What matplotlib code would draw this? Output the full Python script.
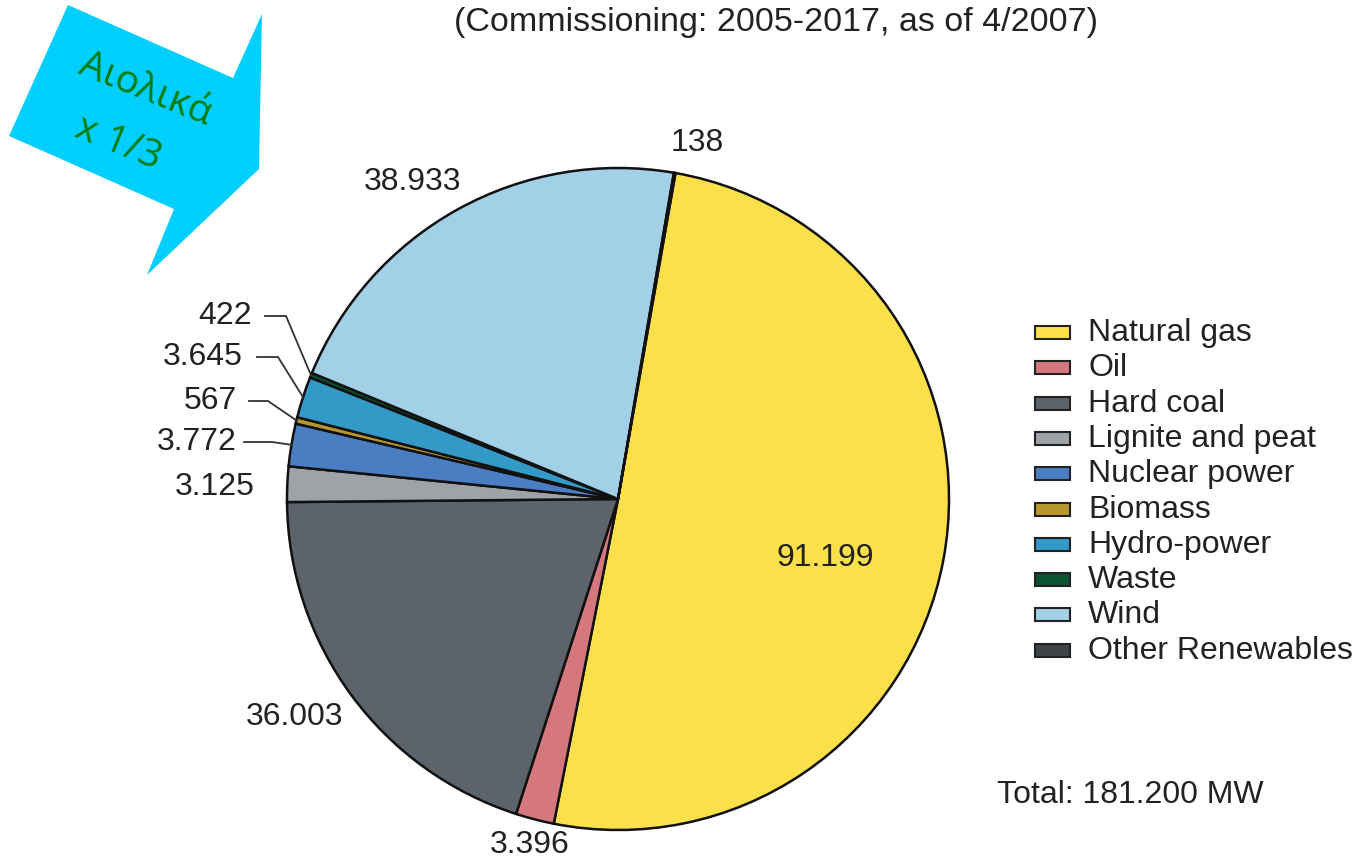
import matplotlib.pyplot as plt
from matplotlib.patches import Polygon, Rectangle
import numpy as np

plt.rcParams['font.family'] = ['Liberation Sans', 'DejaVu Sans']

sources = ["Natural gas", "Oil", "Hard coal", "Lignite and peat", "Nuclear power",
           "Biomass", "Hydro-power", "Waste", "Wind", "Other Renewables"]
capacity_mw = [91199, 3396, 36003, 3125, 3772, 567, 3645, 422, 38933, 138]
value_labels = ["91.199", "3.396", "36.003", "3.125", "3.772",
                "567", "3.645", "422", "38.933", "138"]
colors = ["#fbe04a", "#d4787e", "#5c636b", "#9ea3a8", "#4a7dc2",
          "#b8982e", "#3399c6", "#0a5230", "#a2d0e6", "#3d4347"]

W, H = 1366, 861
CX, CY, R = 618, 499, 331


def d(x, y):
    # pixel position -> pie data coordinates
    return (x - CX) / R, (CY - y) / R


def f(x, y):
    # pixel position -> figure fraction
    return x / W, 1 - y / H


fig = plt.figure(figsize=(W / 100, H / 100), dpi=100)
ax = fig.add_axes([0, 0, 1, 1])

wedges, _ = ax.pie(capacity_mw, colors=colors, startangle=80, counterclock=False,
                   wedgeprops=dict(edgecolor="#111111", linewidth=1.8))
ax.set_xlim((0 - CX) / R, (W - CX) / R)
ax.set_ylim((CY - H) / R, (CY - 0) / R)
ax.set_aspect("auto")
ax.axis("off")

txt = "#222222"
fs = 23

# label positions (pixels) and optional leader-line elbows
label_pos = {
    0: (825, 558), 1: (530, 845), 2: (295, 717), 3: (215, 487),
    4: (197, 442), 5: (210, 401), 6: (203, 357), 7: (225, 316),
    8: (413, 182), 9: (697, 143),
}
leaders = {7: (265, 286), 6: (257, 278), 5: (249, 268), 4: (244, 272)}

for i, w in enumerate(wedges):
    lx, ly = label_pos[i]
    ax.text(*d(lx, ly), value_labels[i], ha="center", va="center",
            fontsize=fs, color=txt)
    if i in leaders:
        x0, xe = leaders[i]
        mid = np.deg2rad((w.theta1 + w.theta2) / 2)
        ex, ey = np.cos(mid), np.sin(mid)
        sx, sy = d(x0, ly)
        kx, ky = d(xe, ly)
        ax.plot([sx, kx, ex], [sy, ky, ey], color="#333333", lw=1.3)

# legend
for i, name in enumerate(sources):
    y = 333 + i * 35.3
    bx, by = d(1035, y + 6)
    ax.add_patch(Rectangle((bx, by), 35 / R, 13 / R, facecolor=colors[i],
                           edgecolor="#222222", lw=1.5))
    ax.text(*d(1088, y), name, ha="left", va="center", fontsize=fs, color=txt)

fig.text(*f(997, 795), "Total: 181.200 MW", ha="left", va="center",
         fontsize=fs, color=txt)
fig.text(*f(776, 22), "(Commissioning: 2005-2017, as of 4/2007)", ha="center",
         va="center", fontsize=24.5, color=txt)

# arrow callout
arrow_pts = [(68, 5), (233, 78), (262, 14), (259, 169), (147, 275), (174, 209), (9, 136)]
fig.patches.append(Polygon([f(x, y) for x, y in arrow_pts], closed=True,
                           facecolor="#00cfff", edgecolor="none",
                           transform=fig.transFigure, figure=fig))
fig.text(*f(145, 90), "Αιολικά", ha="center", va="center", rotation=-22,
         fontsize=28, color="#0a7d0a", family="Open Sans")
fig.text(*f(118, 143), "x 1/3", ha="center", va="center", rotation=-22,
         fontsize=28, color="#0a7d0a", family="Open Sans")

fig.savefig("out.png", dpi=100)
